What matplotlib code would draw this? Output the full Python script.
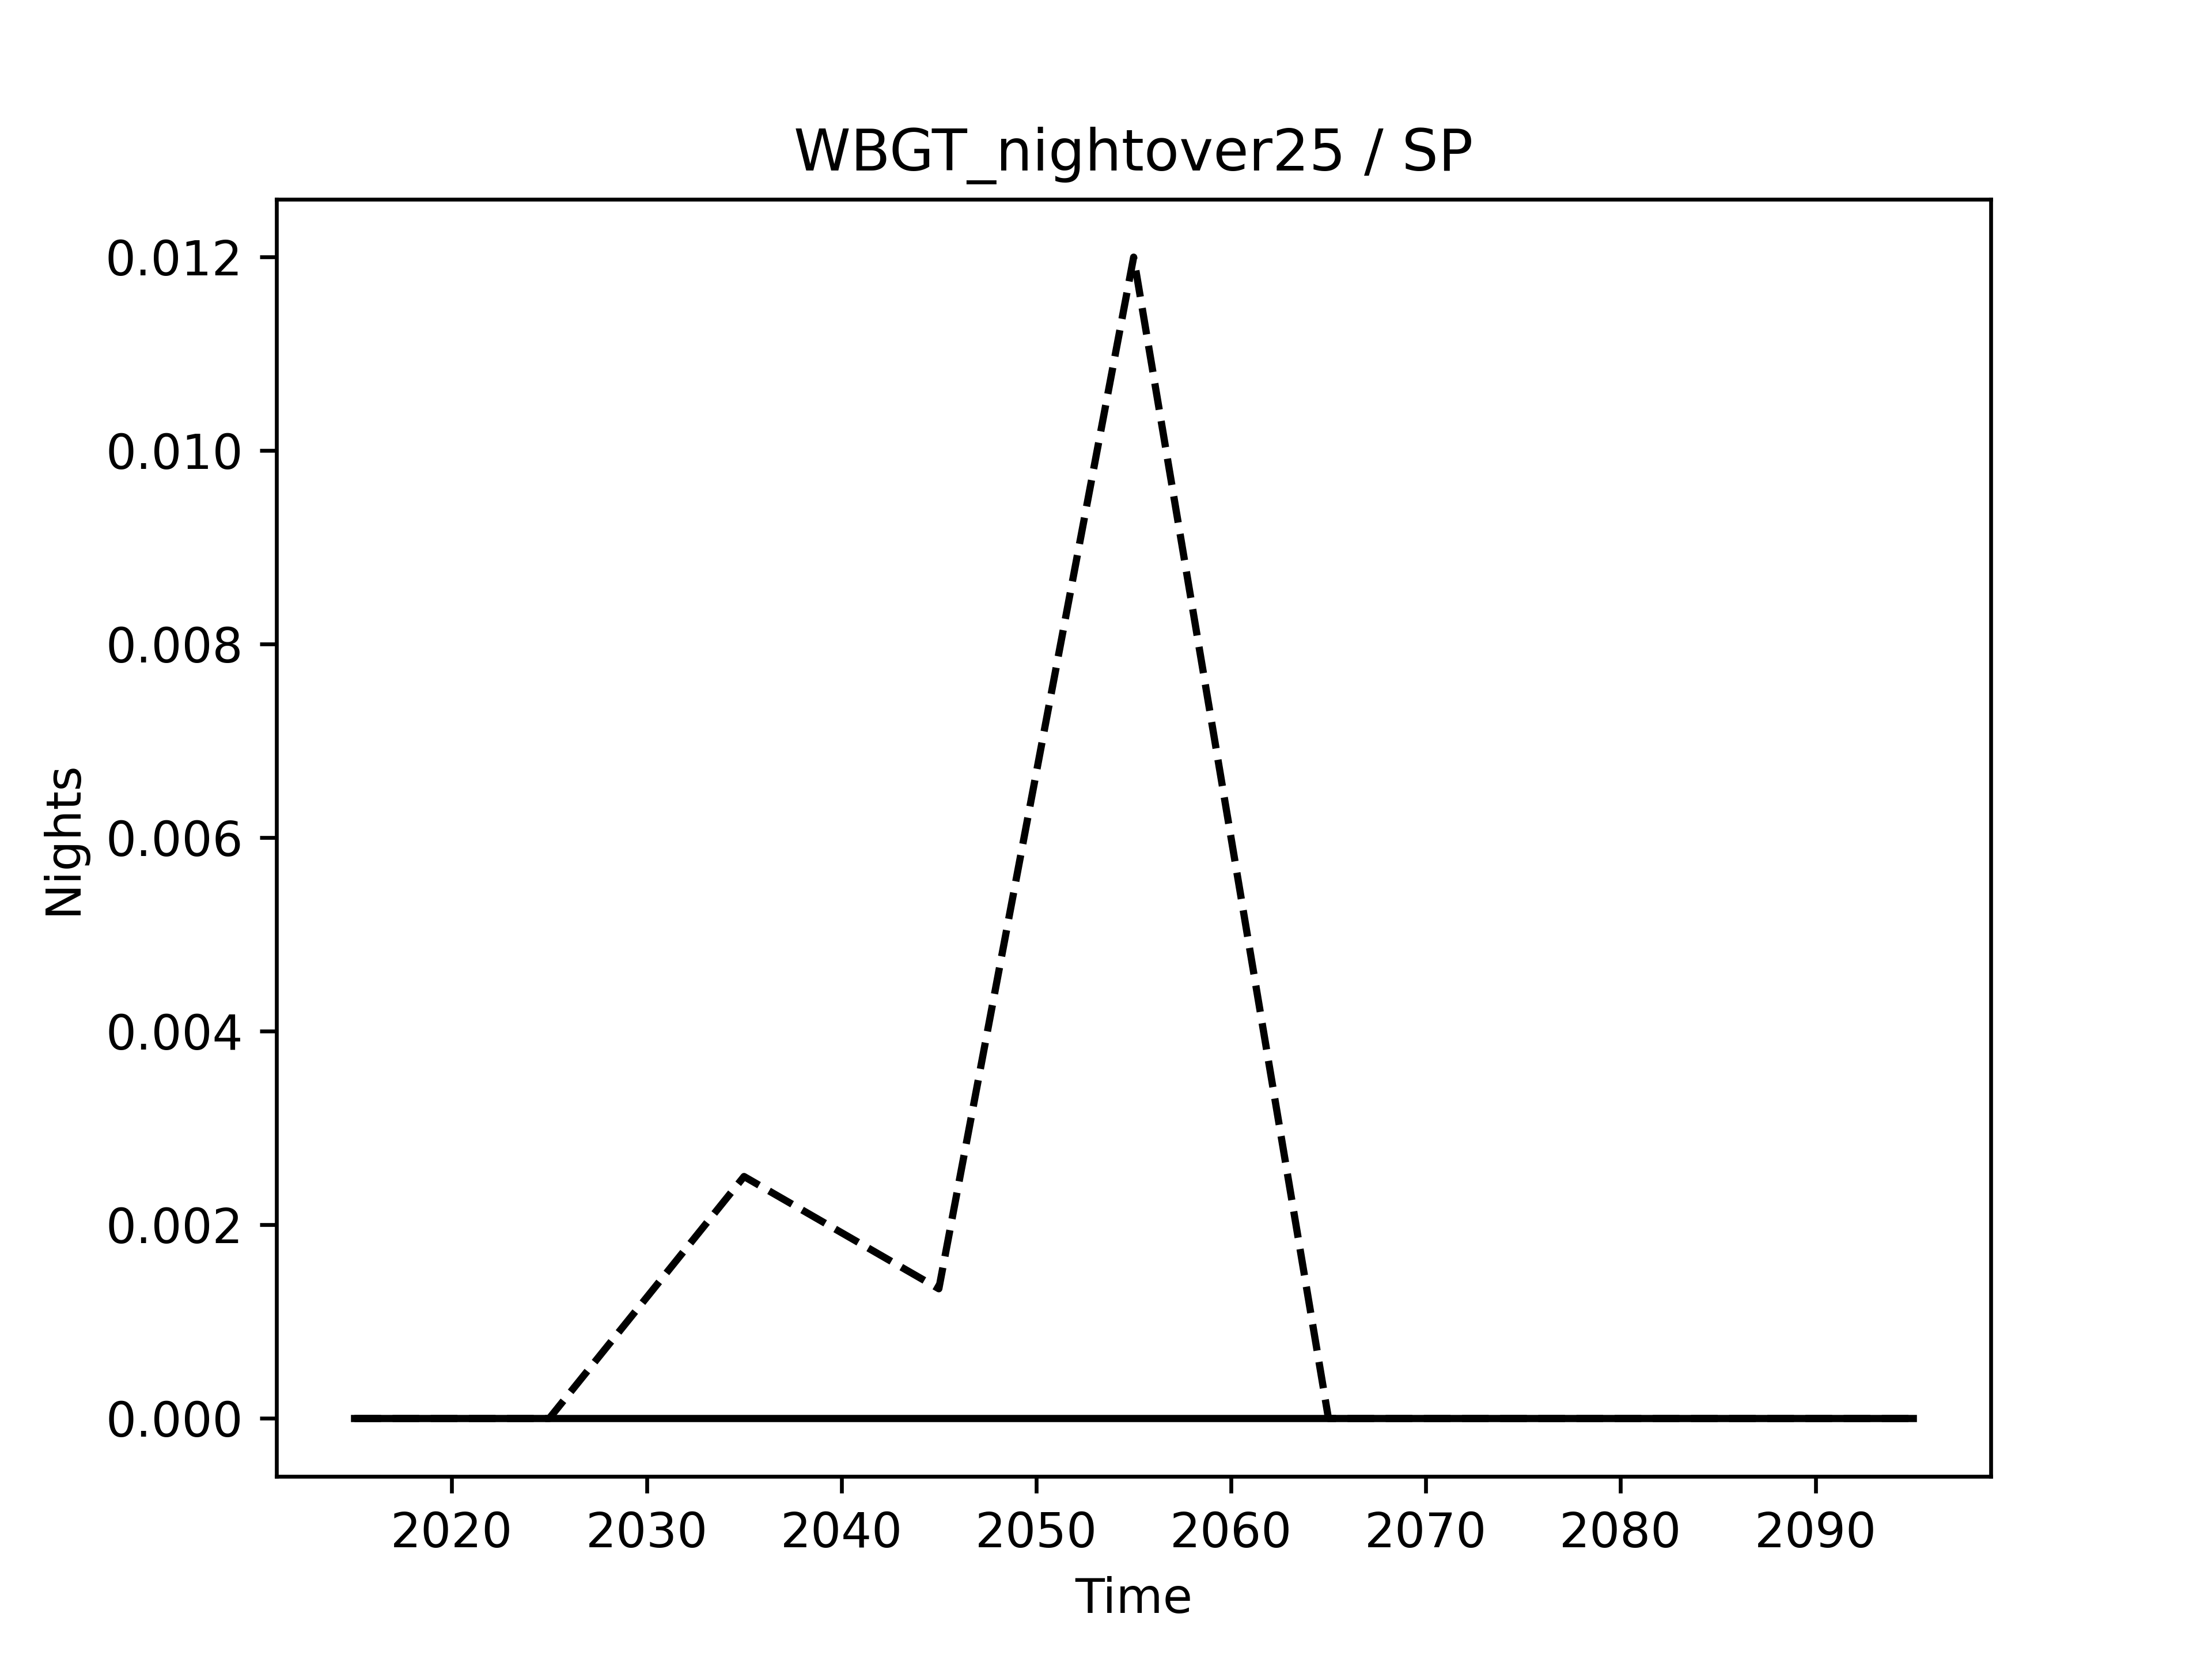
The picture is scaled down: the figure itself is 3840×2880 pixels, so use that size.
import matplotlib
matplotlib.use("Agg")
import matplotlib.pyplot as plt

years = [2015, 2025, 2035, 2045, 2055, 2065, 2075, 2085, 2095]
baseline = [0, 0, 0, 0, 0, 0, 0, 0, 0]
scenario = [0, 0, 0.0025, 0.00134, 0.012, 0, 0, 0, 0]

fig, ax = plt.subplots()
ax.plot(years, baseline, color="black", linestyle="-")
ax.plot(years, scenario, color="black", linestyle="--")
ax.set_title("WBGT_nightover25 / SP")
ax.set_xlabel("Time")
ax.set_ylabel("Nights")
ax.set_xticks([2020, 2030, 2040, 2050, 2060, 2070, 2080, 2090])

fig.savefig("out.png", dpi=600)
